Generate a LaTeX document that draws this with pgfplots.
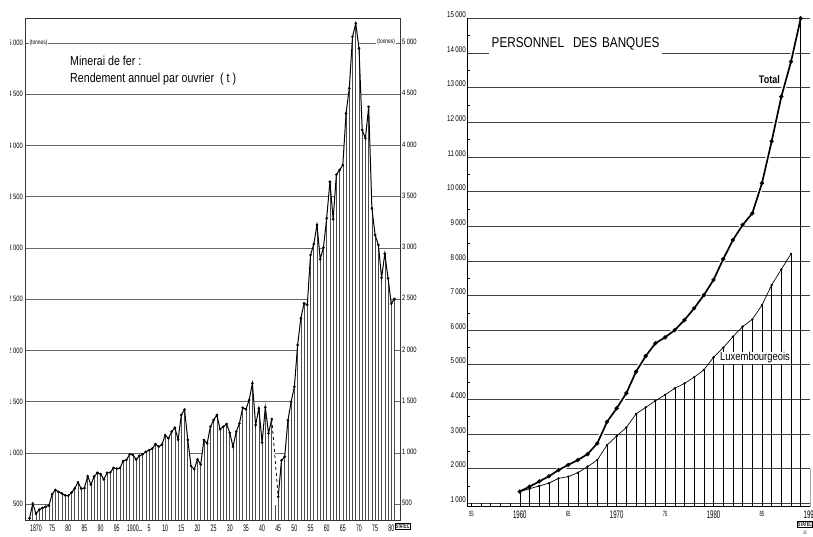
\documentclass[border=0pt]{standalone}
\usepackage{fontspec}
\setmainfont{Liberation Sans}
\newfontfamily\fA{Liberation Sans}[FakeStretch=0.55]
\newfontfamily\fB{Liberation Sans}[FakeStretch=0.82]
\newfontfamily\fC{Liberation Sans}[FakeStretch=0.75]
\usepackage{pgfplots}
\pgfplotsset{compat=1.18}
\usepackage{pgfplotstable}

% rendement annuel par ouvrier (t), 1944 manque
\pgfplotstableread{
year v
1868 360
1869 505
1870 405
1871 445
1872 462
1873 474
1874 485
1875 595
1876 638
1877 618
1878 604
1879 585
1880 581
1881 612
1882 652
1883 712
1884 650
1885 655
1886 772
1887 690
1888 768
1889 805
1890 792
1891 740
1892 805
1893 808
1894 852
1895 845
1896 850
1897 920
1898 930
1899 985
1900 980
1901 935
1902 970
1903 985
1904 1010
1905 1025
1906 1040
1907 1085
1908 1060
1909 1080
1910 1172
1911 1141
1912 1205
1913 1245
1914 1128
1915 1370
1916 1422
1917 1125
1918 871
1919 839
1920 937
1921 885
1922 1125
1923 1092
1924 1255
1925 1320
1926 1369
1927 1229
1928 1255
1929 1281
1930 1195
1931 1060
1932 1206
1933 1288
1934 1440
1935 1425
1936 1515
1937 1678
1938 1271
1939 1434
1940 1100
1941 1444
1942 1190
1943 1330
1945 571
1946 925
1947 962
1948 1316
1949 1499
1950 1645
1951 2052
1952 2313
1953 2459
1954 2443
1955 2931
1956 3036
1957 3224
1958 2889
1959 3002
1960 3289
1961 3646
1962 3279
1963 3715
1964 3760
1965 3809
1966 4313
1967 4558
1968 5061
1969 5192
1970 4948
1971 4151
1972 4070
1973 4378
1974 3386
1975 3126
1976 3028
1977 2708
1978 2944
1979 2703
1980 2455
1981 2503
}\minerai

% personnel des banques
\pgfplotstableread{
year total lux
1960 1340 1340
1961 1480 1420
1962 1630 1500
1963 1780 1580
1964 1960 1720
1965 2110 1770
1966 2250 1885
1967 2420 2060
1968 2730 2250
1969 3350 2680
1970 3740 2940
1971 4180 3190
1972 4800 3580
1973 5250 3770
1974 5620 3960
1975 5790 4130
1976 6000 4320
1977 6290 4460
1978 6630 4640
1979 7010 4850
1980 7450 5215
1981 8050 5490
1982 8600 5810
1983 9035 6100
1984 9370 6310
1985 10240 6720
1986 11450 7300
1987 12740 7755
1988 13750 8200
1989 15000 nan
}\banques

\begin{document}
\begin{tikzpicture}[x=1pt,y=1pt]
\begin{scope}
\clip (10.5pt,0pt) rectangle (813pt,537pt);

% ---- left: minerai de fer
\begin{axis}[
  at={(25pt,17pt)}, anchor=south west,
  scale only axis, width=375pt, height=502pt,
  xmin=1866.6, xmax=1982.7, ymin=344, ymax=5244,
  axis line style={black!80, line width=0.6pt},
  ymajorgrids, grid style={black!60, line width=0.55pt},
  major tick length=0pt,
  scaled ticks=false,
  ytick={500,1000,...,5000},
  yticklabels={500,1\,000,1\,500,2\,000,2\,500,3\,000,3\,500,4\,000,4\,500,5\,000},
  yticklabel style={font=\fC\fontsize{7.8}{7.8}\selectfont, inner sep=0pt, xshift=-2pt},
  xtick={1870,1875,...,1980},
  xticklabels={1870,75,80,85,90,95,1900,5,10,15,20,25,30,35,40,45,50,55,60,65,70,75,80},
  xticklabel style={font=\fA\fontsize{9.5}{9.5}\selectfont, inner sep=0pt, yshift=-4.5pt},
  ytick pos=left, xtick pos=bottom,
]
\addplot[draw=none, fill=white] table[x=year, y=v]{\minerai} \closedcycle;
\addplot[ycomb, black!70, line width=0.6pt, mark=none] table[x=year, y=v]{\minerai};
\addplot[ycomb, black!70, line width=0.6pt, mark=none] coordinates {(1944,490)};
\addplot[black, line width=1pt, mark=*, mark size=0.75pt, restrict x to domain=1868:1943]
  table[x=year, y=v]{\minerai};
\addplot[black, line width=0.8pt, dashed, mark=none, restrict x to domain=1943:1945]
  table[x=year, y=v]{\minerai};
\addplot[black, line width=1pt, mark=*, mark size=0.75pt, restrict x to domain=1945:1981]
  table[x=year, y=v]{\minerai};
\draw[black!80, line width=0.6pt] (rel axis cs:0,0) -- (rel axis cs:1,0);
\end{axis}

% right hand tick labels of the left chart
\begin{axis}[
  at={(25pt,17pt)}, anchor=south west,
  scale only axis, width=375pt, height=502pt,
  xmin=1866.6, xmax=1982.7, ymin=344, ymax=5244,
  hide x axis, axis y line*=right,
  y axis line style={black!80, line width=0.6pt, -},
  major tick length=0pt,
  scaled ticks=false,
  ytick={500,1000,...,5000},
  yticklabels={500,1\,000,1\,500,2\,000,2\,500,3\,000,3\,500,4\,000,4\,500,5\,000},
  yticklabel style={font=\fC\fontsize{7.8}{7.8}\selectfont, inner sep=0pt, xshift=2pt, yshift=1pt},
]
\end{axis}

% ---- right: personnel des banques
\begin{axis}[
  at={(467pt,30.3pt)}, anchor=south west,
  scale only axis, width=343.4pt, height=488.4pt,
  xmin=1954.55, xmax=1990, ymin=902, ymax=15000,
  axis x line*=bottom, axis y line*=left,
  axis line style={black, line width=0.7pt, -},
  ymajorgrids, grid style={black!75, line width=0.55pt},
  scaled ticks=false,
  ytick={1000,2000,...,15000},
  yticklabels={1\,000,2\,000,3\,000,4\,000,5\,000,6\,000,7\,000,8\,000,9\,000,10\,000,11\,000,12\,000,13\,000,14\,000,15\,000},
  yticklabel style={font=\fC\fontsize{8.3}{8.3}\selectfont, anchor=south east, inner sep=0.5pt, xshift=-0.5pt},
  minor y tick num=1, minor tick length=3pt, major tick length=0pt, tick align=inside,
  tick style={black, line width=0.5pt},
  xtick={1955,1960,...,1990},
  xticklabels={{\fontsize{7.5}{7.5}\selectfont 55},1960,{\fontsize{7.5}{7.5}\selectfont 65},1970,
    {\fontsize{7.5}{7.5}\selectfont 75},1980,{\fontsize{7.5}{7.5}\selectfont 85},1990},
  xticklabel style={font=\fA\fontsize{11}{11}\selectfont, inner sep=0pt, yshift=-4pt},
]
\addplot[ycomb, black, line width=0.5pt, mark=none] coordinates {(1955,1000)(1956,1000)(1957,1000)(1958,1000)(1959,1000)};
\addplot[white, line width=4.5pt, mark=none] table[x=year, y=total]{\banques};
\addplot[ycomb, black, line width=0.5pt, mark=none] table[x=year, y=lux]{\banques};
\addplot[black, line width=0.7pt, mark=*, mark size=0.8pt] table[x=year, y=lux]{\banques};
\addplot[black, line width=1.7pt, mark=*, mark size=1.1pt] table[x=year, y=total]{\banques};
\draw[black, line width=0.7pt] (axis cs:1989,902) -- (axis cs:1989,15000);
\draw[black, line width=0.6pt] (axis cs:1990,902) -- (axis cs:1990,2000);
\end{axis}
\end{scope}

% texts
\node[anchor=base west, inner sep=0pt, font=\fB\fontsize{13}{13}\selectfont] at (70,537-65.5) {Minerai de fer :};
\node[anchor=base west, inner sep=0pt, font=\fB\fontsize{13}{13}\selectfont] at (70,537-82.5) {Rendement annuel par ouvrier\ \ ( t )};
\node[fill=white, inner sep=0.8pt, font=\fC\fontsize{6.5}{6.5}\selectfont] at (38.5,537-43) {(tonnes)};
\node[fill=white, inner sep=0.8pt, font=\fC\fontsize{6.5}{6.5}\selectfont] at (386,537-42) {(tonnes)};
\node[inner sep=0pt, font=\fA\fontsize{9.5}{9.5}\selectfont] at (140.5,537-530) {\_};

\node[anchor=south west, fill=white, inner xsep=3pt, inner ysep=5pt, font=\fB\fontsize{14.3}{14.3}\selectfont]
  at (488.5,537-55) {PERSONNEL\hspace{9pt}DES\hspace{5pt}BANQUES};
\node[anchor=base east, inner sep=0pt, font=\fB\bfseries\fontsize{11}{11}\selectfont] at (780,537-83.5) {Total};
\node[anchor=base west, fill=white, inner sep=1pt, font=\fB\fontsize{11.5}{11.5}\selectfont] at (719,537-361) {Luxembourgeois};

% STATEC
\node[draw, fill=white, inner sep=0.8pt, line width=0.4pt, font=\fA\bfseries\fontsize{6.5}{6.5}\selectfont] at (402.5,537-526) {STATEC};
\node[draw, fill=white, inner sep=0.8pt, line width=0.4pt, font=\fA\bfseries\fontsize{6.5}{6.5}\selectfont] at (805,537-524.5) {STATEC};
\node[inner sep=0pt, font=\fA\fontsize{5}{5}\selectfont] at (805,537-533) {43};

\pgfresetboundingbox
\useasboundingbox (0,0) rectangle (813,537);
\end{tikzpicture}
\end{document}
